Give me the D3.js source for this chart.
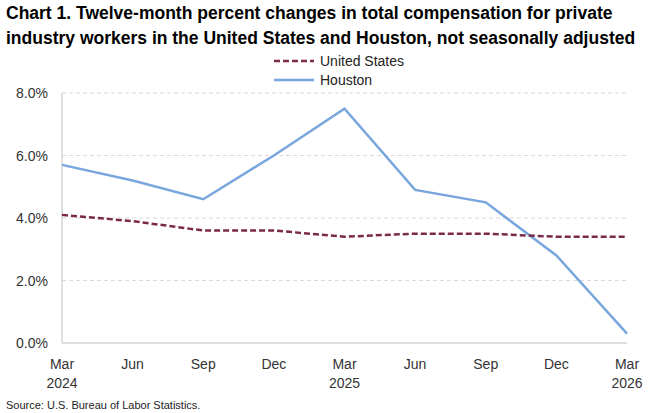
<!DOCTYPE html><html><head><meta charset="utf-8">
<script src="https://cdn.jsdelivr.net/npm/d3@7"></script>
<style>body{margin:0;background:#fff}svg{font-family:"Liberation Sans",Arial,sans-serif}</style></head><body>
<svg id="c" width="668" height="413"></svg>
<script>
const categories=["Mar\n2024","Jun","Sep","Dec","Mar\n2025","Jun","Sep","Dec","Mar\n2026"];
const unitedStates=[4.1,3.9,3.6,3.6,3.4,3.5,3.5,3.4,3.4];
const houston=[5.7,5.2,4.6,6.0,7.5,4.9,4.5,2.8,0.3];
const yTicks=[0,2,4,6,8];
const svg=d3.select("#c");
const x=d3.scalePoint().domain(d3.range(categories.length)).range([62,627]);
const y=d3.scaleLinear().domain([0,8]).range([343,93]);
svg.append("text").attr("x",6).attr("y",19).attr("font-size",17.5).attr("font-weight","bold").attr("fill","#000").text("Chart 1. Twelve-month percent changes in total compensation for private");
svg.append("text").attr("x",6).attr("y",44).attr("font-size",17.5).attr("font-weight","bold").attr("fill","#000").text("industry workers in the United States and Houston, not seasonally adjusted");
yTicks.forEach(t=>{ if(t>0) svg.append("line").attr("x1",62).attr("x2",627).attr("y1",y(t)).attr("y2",y(t)).attr("stroke","#d9d9d9").attr("stroke-dasharray","4,3");});
svg.append("line").attr("x1",62).attr("x2",62).attr("y1",93).attr("y2",343).attr("stroke","#bfbfbf");
svg.append("line").attr("x1",62).attr("x2",627).attr("y1",343).attr("y2",343).attr("stroke","#bfbfbf");
yTicks.forEach(t=>svg.append("text").attr("x",48).attr("y",y(t)+5).attr("text-anchor","end").attr("font-size",14).attr("fill","#333").text(t.toFixed(1)+"%"));
categories.forEach((c,i)=>{const ls=c.split("\n");ls.forEach((l,j)=>svg.append("text").attr("x",x(i)).attr("y",369+j*19).attr("text-anchor","middle").attr("font-size",14).attr("fill","#333").text(l));});
const line=d3.line().x((d,i)=>x(i)).y(d=>y(d));
svg.append("path").datum(houston).attr("d",line).attr("fill","none").attr("stroke","#7aa6de").attr("stroke-width",2.5);
svg.append("path").datum(unitedStates).attr("d",line).attr("fill","none").attr("stroke","#7b2a4a").attr("stroke-width",2.5).attr("stroke-dasharray","6,3");
svg.append("line").attr("x1",274).attr("x2",314).attr("y1",61).attr("y2",61).attr("stroke","#7b2a4a").attr("stroke-width",2.5).attr("stroke-dasharray","6,3");
svg.append("text").attr("x",320).attr("y",66).attr("font-size",14).attr("fill","#222").text("United States");
svg.append("line").attr("x1",274).attr("x2",314).attr("y1",80).attr("y2",80).attr("stroke","#7aa6de").attr("stroke-width",2.5);
svg.append("text").attr("x",320).attr("y",85).attr("font-size",14).attr("fill","#222").text("Houston");
svg.append("text").attr("x",6).attr("y",409).attr("font-size",11).attr("fill","#222").text("Source: U.S. Bureau of Labor Statistics.");
</script></body></html>
